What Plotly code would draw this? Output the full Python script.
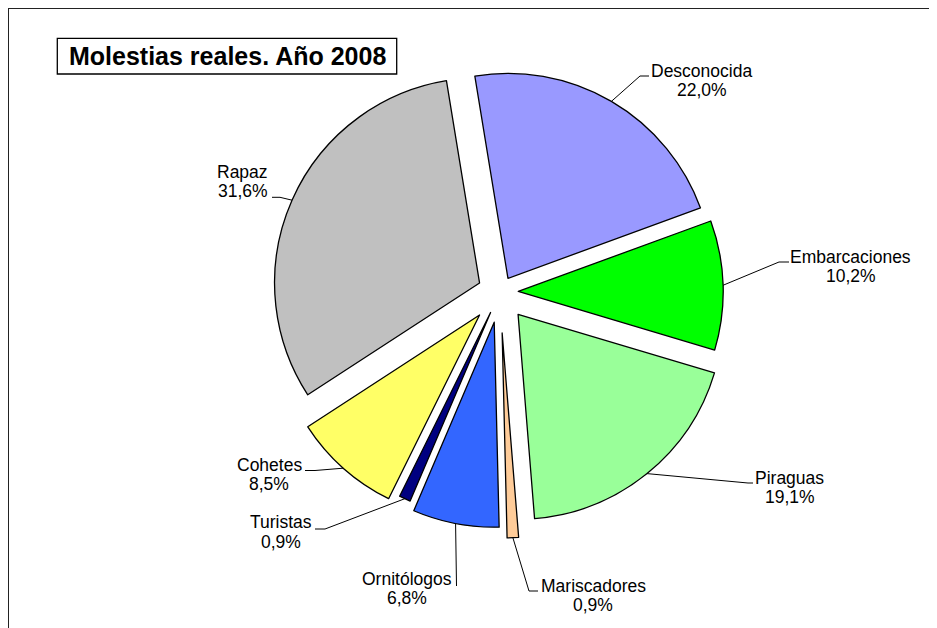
import math
import plotly.graph_objects as go

# ---- data ----
labels = ["Desconocida", "Embarcaciones", "Piraguas", "Mariscadores",
          "Ornitólogos", "Turistas", "Cohetes", "Rapaz"]
values = [22.0, 10.2, 19.1, 0.9, 6.8, 0.9, 8.5, 31.6]
title_text = "Molestias reales. Año 2008"

# ---- styles ----
colors = ["#9999FF", "#00FF00", "#99FF99", "#FFCC99",
          "#3366FF", "#000080", "#FFFF66", "#C0C0C0"]
pulls = [0.077, 0.089, 0.14, 0.2, 0.15, 0.11, 0.15, 0.109]
rotation = -9.3

W, H = 937, 628
OFF = 8  # page body margin offset
FONT = "Liberation Sans, Arial, sans-serif"
LF = 17.5  # label font size
TF = 25    # title font size

# pie domain in screen pixels
dx0, dx1, dy0, dy1 = 254, 746, 46, 538
cx, cy = (dx0 + dx1) / 2, (dy0 + dy1) / 2
R = min(dx1 - dx0, dy1 - dy0) / (2 + 2 * max(pulls))

def px(x):
    return (x - OFF) / W

def py(y):
    return 1 - (y - OFF) / H

# label layout: text centre x, name baseline, pct baseline, elbow, stub end
label_layout = [
    (701.5, 76.7, 95.7, (640, 76), (649, 76)),
    (850.8, 262.7, 281.7, (779, 262), (789, 262)),
    (789.5, 484.3, 503.3, (748, 483), (753, 483)),
    (593.0, 591.7, 610.7, (529, 591), (538, 591)),
    (407.0, 585.0, 604.0, (456.5, 586), (456.5, 586)),
    (280.5, 528.3, 548.3, (325, 529), (315, 529)),
    (269.0, 470.7, 490.0, (315, 470.5), (305, 470.5)),
    (242.5, 177.7, 196.9, (280, 197.3), (272, 197.3)),
]

fig = go.Figure(go.Pie(
    labels=labels, values=values, sort=False, direction="clockwise",
    rotation=rotation, pull=pulls, textinfo="none", hoverinfo="label+percent",
    marker=dict(colors=colors, line=dict(color="black", width=1.3)),
    domain=dict(x=[px(dx0), px(dx1)], y=[py(dy1), py(dy0)]),
    showlegend=False,
))

shapes = []
annotations = []
total = sum(values)
cum = 0.0
for i, v in enumerate(values):
    mid = math.radians(rotation + 360 * (cum + v / 2) / total)
    cum += v
    ux, uy = math.sin(mid), -math.cos(mid)
    d = R * (1 + pulls[i])
    ax, ay = cx + d * ux, cy + d * uy
    tx, b1, b2, elb, stub = label_layout[i]
    shapes.append(dict(
        type="path", xref="paper", yref="paper",
        path=f"M {px(ax)},{py(ay)} L {px(elb[0])},{py(elb[1])} L {px(stub[0])},{py(stub[1])}",
        line=dict(color="black", width=1)))
    pct = f"{v:.1f}".replace(".", ",") + "%"
    for txt, base in ((labels[i], b1), (pct, b2)):
        annotations.append(dict(
            text=txt, x=px(tx), y=py(base - 0.3465 * LF), xref="paper", yref="paper",
            xanchor="center", yanchor="middle", showarrow=False,
            font=dict(family=FONT, size=LF, color="black")))

# title box and text
shapes.append(dict(type="rect", xref="paper", yref="paper",
                   x0=px(57.3), x1=px(396.7), y0=py(74), y1=py(38.3),
                   line=dict(color="black", width=1.3), fillcolor="white", layer="below"))
annotations.append(dict(
    text=f"<b>{title_text}</b>", x=px(227), y=py(65 - 0.3465 * TF), xref="paper", yref="paper",
    xanchor="center", yanchor="middle", showarrow=False,
    font=dict(family=FONT, size=TF, color="black")))

# chart frame (top and left edges visible)
shapes.append(dict(type="line", xref="paper", yref="paper",
                   x0=px(8), x1=1, y0=py(8), y1=py(8), line=dict(color="#222", width=2)))
shapes.append(dict(type="line", xref="paper", yref="paper",
                   x0=px(8), x1=px(8), y0=py(8), y1=0, line=dict(color="#222", width=2)))

fig.update_layout(
    width=W, height=H, margin=dict(l=0, r=0, t=0, b=0),
    paper_bgcolor="white", plot_bgcolor="white",
    shapes=shapes, annotations=annotations,
)

fig.write_html("out.html")
